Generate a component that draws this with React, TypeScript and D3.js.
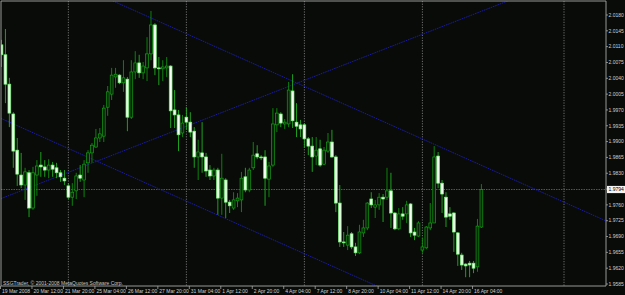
import React from 'react';
import * as d3 from 'd3';

const W = 625;
const H = 295;

// H4 bars, 19 Mar 2008 04:00 -> 16 Apr 2008 12:00
const opens = [
  2.0114, 2.0092, 2.0027, 1.9961, 1.9881, 1.9826, 1.9804, 1.9831, 1.9753, 1.9826,
  1.9848, 1.9844, 1.9837, 1.9848, 1.9842, 1.9831, 1.9819, 1.9802, 1.9777, 1.9791,
  1.9826, 1.9815, 1.9853, 1.9875, 1.9888, 1.9908, 1.9912, 1.9976, 2.0005, 2.0043,
  2.0047, 2.0030, 2.0038, 1.9954, 2.0054, 2.0074, 2.0052, 2.0063, 2.0094, 2.0158,
  2.0063, 2.0061, 2.0063, 2.0067, 1.9970, 1.9959, 1.9919, 1.9954, 1.9943, 1.9923,
  1.9866, 1.9875, 1.9866, 1.9837, 1.9824, 1.9837, 1.9775, 1.9815, 1.9766, 1.9753,
  1.9769, 1.9771, 1.9822, 1.9793, 1.9842, 1.9873, 1.9866, 1.9866, 1.9817, 1.9848,
  1.9937, 1.9961, 1.9939, 1.9939, 2.0012, 1.9943, 1.9937, 1.9937, 1.9906, 1.9890,
  1.9868, 1.9884, 1.9850, 1.9879, 1.9899, 1.9866, 1.9764, 1.9678, 1.9671, 1.9696,
  1.9667, 1.9654, 1.9698, 1.9709, 1.9773, 1.9755, 1.9760, 1.9777, 1.9777, 1.9791,
  1.9742, 1.9707, 1.9740, 1.9740, 1.9762, 1.9700, 1.9691, 1.9660, 1.9665, 1.9709,
  1.9720, 1.9868, 1.9808, 1.9777, 1.9740, 1.9742, 1.9698, 1.9649, 1.9629, 1.9631,
  1.9631, 1.9623, 1.9711,
];
const highs = [
  2.0125, 2.0149, 2.0041, 1.9965, 1.9908, 1.9875, 1.9842, 1.9837, 1.9844, 1.9859,
  1.9877, 1.9859, 1.9861, 1.9855, 1.9853, 1.9837, 1.9837, 1.9808, 1.9808, 1.9831,
  1.9848, 1.9859, 1.9881, 1.9897, 1.9928, 1.9930, 1.9981, 2.0023, 2.0063, 2.0063,
  2.0049, 2.0080, 2.0043, 2.0080, 2.0100, 2.0092, 2.0076, 2.0131, 2.0189, 2.0162,
  2.0087, 2.0080, 2.0087, 2.0069, 2.0014, 1.9970, 1.9959, 1.9976, 1.9965, 1.9932,
  1.9904, 1.9943, 1.9875, 1.9848, 1.9842, 1.9842, 1.9873, 1.9819, 1.9771, 1.9788,
  1.9786, 1.9833, 1.9842, 1.9842, 1.9899, 1.9892, 1.9870, 1.9881, 1.9855, 1.9974,
  1.9974, 1.9965, 1.9950, 2.0032, 2.0049, 1.9985, 1.9948, 1.9941, 1.9910, 1.9910,
  1.9910, 1.9904, 1.9888, 1.9919, 1.9926, 1.9870, 1.9804, 1.9700, 1.9713, 1.9700,
  1.9676, 1.9716, 1.9727, 1.9766, 1.9788, 1.9771, 1.9786, 1.9784, 1.9842, 1.9831,
  1.9744, 1.9753, 1.9755, 1.9769, 1.9764, 1.9709, 1.9724, 1.9687, 1.9713, 1.9764,
  1.9890, 1.9877, 1.9815, 1.9788, 1.9755, 1.9744, 1.9700, 1.9654, 1.9631, 1.9636,
  1.9636, 1.9729, 1.9806,
];
const lows = [
  2.0065, 1.9985, 1.9932, 1.9842, 1.9802, 1.9797, 1.9771, 1.9733, 1.9749, 1.9780,
  1.9822, 1.9822, 1.9819, 1.9822, 1.9819, 1.9811, 1.9804, 1.9773, 1.9758, 1.9773,
  1.9811, 1.9777, 1.9831, 1.9853, 1.9886, 1.9899, 1.9899, 1.9957, 1.9992, 2.0019,
  2.0027, 2.0010, 1.9923, 1.9950, 2.0038, 2.0041, 2.0038, 2.0034, 2.0080, 2.0047,
  2.0025, 2.0034, 2.0043, 1.9930, 1.9930, 1.9879, 1.9910, 1.9926, 1.9910, 1.9842,
  1.9815, 1.9831, 1.9822, 1.9815, 1.9815, 1.9738, 1.9738, 1.9731, 1.9742, 1.9749,
  1.9755, 1.9744, 1.9788, 1.9788, 1.9837, 1.9861, 1.9859, 1.9758, 1.9777, 1.9844,
  1.9921, 1.9932, 1.9928, 1.9932, 1.9930, 1.9910, 1.9910, 1.9886, 1.9870, 1.9833,
  1.9848, 1.9844, 1.9848, 1.9875, 1.9864, 1.9744, 1.9667, 1.9667, 1.9660, 1.9662,
  1.9647, 1.9651, 1.9689, 1.9704, 1.9753, 1.9731, 1.9749, 1.9722, 1.9771, 1.9709,
  1.9704, 1.9704, 1.9727, 1.9720, 1.9689, 1.9682, 1.9689, 1.9654, 1.9662, 1.9704,
  1.9720, 1.9797, 1.9742, 1.9711, 1.9727, 1.9656, 1.9625, 1.9616, 1.9600, 1.9600,
  1.9609, 1.9612, 1.9709,
];
const closes = [
  2.0092, 2.0027, 1.9963, 1.9879, 1.9828, 1.9804, 1.9833, 1.9753, 1.9831, 1.9846,
  1.9844, 1.9837, 1.9848, 1.9839, 1.9831, 1.9822, 1.9813, 1.9777, 1.9788, 1.9824,
  1.9819, 1.9850, 1.9875, 1.9892, 1.9908, 1.9917, 1.9974, 2.0010, 2.0047, 2.0049,
  2.0030, 2.0041, 1.9954, 2.0054, 2.0074, 2.0052, 2.0067, 2.0094, 2.0158, 2.0063,
  2.0061, 2.0065, 2.0067, 1.9968, 1.9959, 1.9915, 1.9941, 1.9943, 1.9921, 1.9866,
  1.9877, 1.9866, 1.9835, 1.9824, 1.9837, 1.9775, 1.9819, 1.9766, 1.9758, 1.9771,
  1.9775, 1.9819, 1.9793, 1.9837, 1.9870, 1.9866, 1.9864, 1.9819, 1.9846, 1.9939,
  1.9963, 1.9941, 1.9943, 2.0014, 1.9946, 1.9934, 1.9928, 1.9906, 1.9890, 1.9866,
  1.9881, 1.9848, 1.9881, 1.9899, 1.9866, 1.9764, 1.9678, 1.9676, 1.9693, 1.9667,
  1.9654, 1.9700, 1.9709, 1.9764, 1.9760, 1.9760, 1.9777, 1.9773, 1.9791, 1.9742,
  1.9707, 1.9740, 1.9735, 1.9760, 1.9698, 1.9693, 1.9720, 1.9667, 1.9711, 1.9720,
  1.9866, 1.9808, 1.9784, 1.9733, 1.9735, 1.9700, 1.9651, 1.9627, 1.9625, 1.9627,
  1.9620, 1.9713, 1.9794,
];

const priceTicks = [
  2.018, 2.0145, 2.011, 2.0075, 2.004, 2.0005, 1.997, 1.9935, 1.99, 1.9865,
  1.983, 1.9795, 1.976, 1.9725, 1.969, 1.9655, 1.962, 1.9585,
];
const timeLabelBars = [0, 8, 16, 24, 32, 40, 48, 56, 64, 72, 80, 88, 96, 104, 112, 120];
const timeLabels = [
  '19 Mar 2008', '20 Mar 12:00', '21 Mar 20:00', '25 Mar 04:00', '26 Mar 12:00',
  '27 Mar 20:00', '31 Mar 04:00', '1 Apr 12:00', '2 Apr 20:00', '4 Apr 04:00',
  '7 Apr 12:00', '8 Apr 20:00', '10 Apr 04:00', '11 Apr 12:00', '14 Apr 20:00',
  '16 Apr 04:00',
];
const separatorBars = [17, 47, 77, 107, 143];
const bidPrice = 1.9794;
// trendlines as two anchor points (bar index, price), extended as full lines
const trendStartBars = [38, 0, 0];
const trendStartPrices = [2.01735, 1.99507, 1.97743];
const trendEndBars = [122, 80, 100];
const trendEndPrices = [1.98475, 1.96403, 2.01136];
const copyright = 'SSGTrader, \u00a9 2001-2008 MetaQuotes Software Corp.';

const PL = 1;
const PR = 606;
const PT = 1;
const PB = 286;

export default function App() {
  const x = d3.scaleLinear().domain([0, 122]).range([1.5, 481.4]);
  const y = d3.scaleLinear().domain([1.9585, 2.018]).range([284, 15]);
  const bw = 2.8;
  const font = 'Liberation Sans, Arial, sans-serif';

  const lines = trendStartBars.map((b, k) => {
    const x1 = x(b), y1 = y(trendStartPrices[k]);
    const x2 = x(trendEndBars[k]), y2 = y(trendEndPrices[k]);
    const s = (y2 - y1) / (x2 - x1);
    const xa = PL, xb = PR;
    return { xa, ya: y1 + s * (xa - x1), xb, yb: y1 + s * (xb - x1) };
  });

  return (
    <svg width={W} height={H} style={{ position: 'absolute', left: 0, top: 0, display: 'block' }}>
      <defs>
        <clipPath id="plot">
          <rect x={PL} y={PT} width={PR - PL} height={PB - PT} />
        </clipPath>
      </defs>
      <rect x={0} y={0} width={W} height={H} fill="#080b07" />
      <g clipPath="url(#plot)">
        {separatorBars.map((b, k) => (
          <line key={'s' + k} x1={x(b)} x2={x(b)} y1={PT} y2={PB} stroke="#8a8a8a" strokeWidth={0.8} strokeDasharray="1.2 1.4" />
        ))}
        <line x1={PL} x2={PR} y1={y(bidPrice)} y2={y(bidPrice)} stroke="#5a5f5a" strokeWidth={0.9} strokeDasharray="1.5 1" />
        {lines.map((l, k) => (
          <line key={'t' + k} x1={l.xa} y1={l.ya} x2={l.xb} y2={l.yb} stroke="#1c1cb8" strokeWidth={0.9} strokeDasharray="1.6 0.8" />
        ))}
        {opens.map((o, i) => {
          const c = closes[i];
          const bull = c >= o;
          const cx = x(i);
          const top = y(Math.max(o, c));
          const bot = y(Math.min(o, c));
          const h = Math.max(bot - top, 0.8);
          return (
            <g key={i}>
              <line x1={cx} x2={cx} y1={y(highs[i])} y2={y(lows[i])} stroke={bull ? '#0e8e0e' : '#22b022'} strokeWidth={0.9} />
              <rect x={cx - bw / 2} y={top} width={bw} height={h}
                fill={bull ? '#0a200a' : '#f2fff0'}
                stroke={bull ? '#14a014' : '#70f070'} strokeWidth={0.7} />
            </g>
          );
        })}
      </g>
      {/* frame */}
      <line x1={PL} x2={PL} y1={PT} y2={PB} stroke="#a8a8a8" strokeWidth={0.9} />
      <line x1={PL} x2={PR} y1={PT} y2={PT} stroke="#a8a8a8" strokeWidth={0.9} />
      <line x1={PR} x2={PR} y1={PT} y2={PB} stroke="#a8a8a8" strokeWidth={0.9} />
      <line x1={PL} x2={PR} y1={PB} y2={PB} stroke="#a8a8a8" strokeWidth={0.9} />
      {/* price axis */}
      {priceTicks.map((p, k) => (
        <g key={'p' + k}>
          <line x1={PR} x2={PR + 2} y1={y(p)} y2={y(p)} stroke="#a8a8a8" strokeWidth={0.8} />
          <text x={PR + 2.5} y={y(p)} dy="0.35em" fontSize={5} fontFamily={font} fill="#d0d0d0">{p.toFixed(4)}</text>
        </g>
      ))}
      <rect x={PR + 1} y={y(bidPrice) - 3.6} width={W - PR - 1} height={7.2} fill="#f4f4f4" />
      <text x={PR + 2.5} y={y(bidPrice)} dy="0.35em" fontSize={5} fontFamily={font} fill="#000">{bidPrice.toFixed(4)}</text>
      {/* time axis */}
      {timeLabelBars.map((b, k) => (
        <g key={'x' + k}>
          <line x1={x(b) - 1} x2={x(b) - 1} y1={PB} y2={PB + 3} stroke="#a8a8a8" strokeWidth={0.8} />
          <text x={x(b) + 0.5} y={293} fontSize={5} fontFamily={font} fill="#d0d0d0">{timeLabels[k]}</text>
        </g>
      ))}
      <text x={3} y={284.5} fontSize={5} fontFamily={font} fill="#c8c8c8">{copyright}</text>
    </svg>
  );
}
